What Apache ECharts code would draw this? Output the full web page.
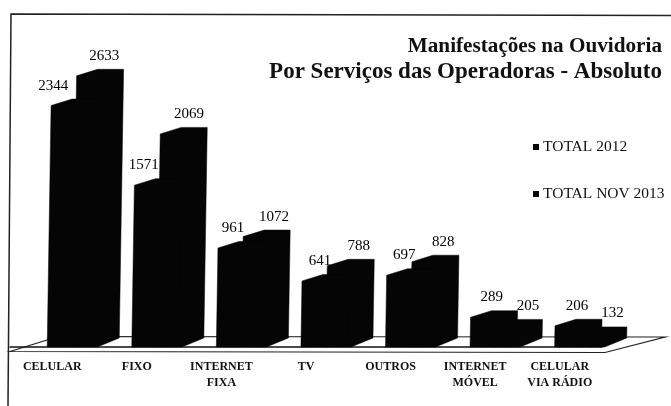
<!DOCTYPE html>
<html>
<head>
<meta charset="utf-8">
<style>html,body{margin:0;padding:0;background:#fff}#c{width:671px;height:406px}</style>
<script src="https://cdn.jsdelivr.net/npm/echarts@6/dist/echarts.min.js"></script>
</head>
<body>
<div id="c"></div>
<script>
const categories = ['CELULAR', 'FIXO', 'INTERNET\nFIXA', 'TV', 'OUTROS', 'INTERNET\nMÓVEL', 'CELULAR\nVIA RÁDIO'];
const total2012 = [2344, 1571, 961, 641, 697, 289, 206];
const totalNov2013 = [2633, 2069, 1072, 788, 828, 205, 132];
const seriesNames = ['TOTAL 2012', 'TOTAL NOV 2013'];
const titleLine1 = 'Manifestações na Ouvidoria';
const titleLine2 = 'Por Serviços das Operadoras - Absoluto';

const SERIF = '"Liberation Serif","Times New Roman",serif';
const chart = echarts.init(document.getElementById('c'), null, {renderer: 'canvas'});

function barRenderer(which) {
  return function (params, api) {
    const cat = api.value(0), val = api.value(1);
    const base = api.coord([cat, 0]);
    const top = api.coord([cat, val]);
    const band = api.size([1, 0])[0];
    const w = band * 0.296, dx = band * 0.26, dy = 8;
    const x0 = base[0] - band * 0.06 + which * w;
    const h = base[1] - top[1];
    const lean = h * 0.016;
    const shape = [
      [x0, base[1]],
      [x0 + lean, top[1]],
      [x0 + lean + dx - 1, top[1] - dy + 1.5],
      [x0 + lean + w + dx, top[1] - dy + 1.5],
      [x0 + w + dx, base[1] - dy - 1],
      [x0 + w, base[1]]
    ];
    const lx = which === 0 ? x0 + lean + 24 - h * 0.09 : x0 + lean + 33 - h * 0.02;
    const ly = top[1] - 20;
    return {
      type: 'group',
      children: [
        {type: 'polygon', shape: {points: shape}, style: {fill: '#050505', stroke: '#050505', lineWidth: 0.5}},
        {type: 'text', z2: 10, style: {x: lx, y: ly, text: String(val), fill: '#000', font: '15px ' + SERIF, align: 'center', verticalAlign: 'middle'}}
      ]
    };
  };
}

function toData(arr) { return arr.map((v, i) => [i, v]); }

chart.setOption({
  animation: false,
  backgroundColor: '#fff',
  grid: {left: 10, width: 592, top: 38, height: 309, containLabel: false},
  title: [
    {text: titleLine1, left: 657, top: 31, textAlign: 'right',
     textStyle: {fontFamily: SERIF, fontSize: 21.2, fontWeight: 'bold', color: '#111'}},
    {text: titleLine2, left: 657, top: 56, textAlign: 'right',
     textStyle: {fontFamily: SERIF, fontSize: 23, fontWeight: 'bold', color: '#111'}}
  ],
  legend: {
    left: 528, top: 134, orient: 'vertical', itemWidth: 6, itemHeight: 6, itemGap: 31,
    icon: 'rect',
    textStyle: {fontFamily: SERIF, fontSize: 15.5, color: '#111', padding: [0, 0, 0, -1], lineHeight: 14},
    formatter: n => n,
    data: seriesNames
  },
  xAxis: {
    type: 'category', data: categories, offset: 5,
    axisTick: {show: false},
    axisLine: {lineStyle: {color: '#111', width: 1.5}},
    axisLabel: {interval: 0, margin: 7, fontFamily: SERIF, fontSize: 12, color: '#111', lineHeight: 16, fontWeight: 'bold'}
  },
  yAxis: {type: 'value', min: 0, max: 3000, show: false, splitLine: {show: false}},
  graphic: [
    {type: 'polygon', z: -1, silent: true, shape: {points: [[10, 351.5], [47, 340], [50, 336.5], [665, 337], [605, 352.5]]}, style: {fill: '#fff', stroke: '#222', lineWidth: 1.2}},
    {type: 'polyline', silent: true, shape: {points: [[8, 406], [11, 14], [671, 15.5]]}, style: {fill: 'none', stroke: '#222', lineWidth: 1.5}}
  ],
  series: [
    {name: seriesNames[0], type: 'custom', data: toData(total2012), renderItem: barRenderer(0), itemStyle: {color: '#050505'}, encode: {x: 0, y: 1}, silent: true, z: 3},
    {name: seriesNames[1], type: 'custom', data: toData(totalNov2013), renderItem: barRenderer(1), itemStyle: {color: '#050505'}, encode: {x: 0, y: 1}, silent: true, z: 2}
  ]
});
</script>
</body>
</html>
